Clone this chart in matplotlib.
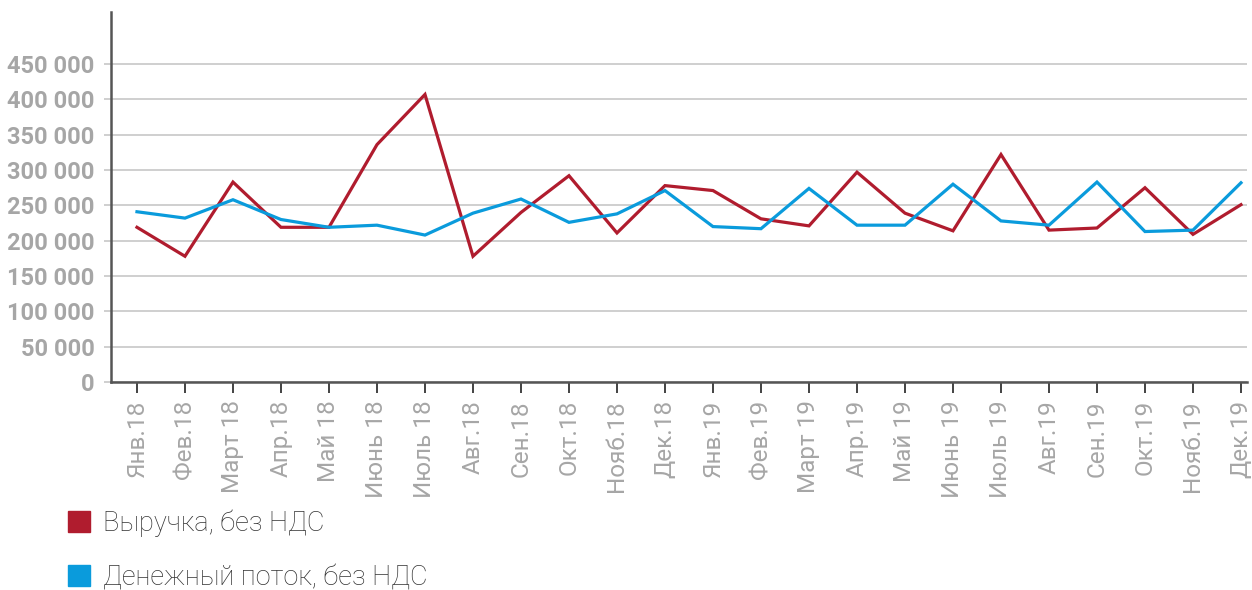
import numpy as np
import matplotlib

matplotlib.use("Agg")
import matplotlib.pyplot as plt
from matplotlib.patches import Patch

# monthly figures, 2018-2019, roubles excl. VAT
months = ["Янв.18", "Фев.18", "Март 18", "Апр.18", "Май 18", "Июнь 18",
          "Июль 18", "Авг.18", "Сен.18", "Окт.18", "Нояб.18", "Дек.18",
          "Янв.19", "Фев.19", "Март 19", "Апр.19", "Май 19", "Июнь 19",
          "Июль 19", "Авг.19", "Сен.19", "Окт.19", "Нояб.19", "Дек.19"]
revenue = [219000, 178000, 283000, 219000, 219000, 336000,
           407000, 178000, 240000, 292000, 211000, 278000,
           271000, 231000, 221000, 297000, 239000, 214000,
           322000, 215000, 218000, 275000, 209000, 251000]
cashflow = [241000, 232000, 258000, 230000, 219000, 222000,
            208000, 239000, 259000, 226000, 238000, 271000,
            220000, 217000, 274000, 222000, 222000, 280000,
            228000, 222000, 283000, 213000, 215000, 282000]
series_names = ["Выручка, без НДС", "Денежный поток, без НДС"]
y_ticks = np.arange(0, 450001, 50000)

RED = "#b01c2e"
BLUE = "#0a9bdc"
GREY = "#a6a6a6"

fig = plt.figure(figsize=(12.52, 5.9), dpi=100)
ax = fig.add_axes([0.0887, 0.3525, 0.9071, 0.6275])

x = np.arange(len(months))
ax.plot(x, revenue, color=RED, lw=2.3, solid_joinstyle="miter")
ax.plot(x, cashflow, color=BLUE, lw=2.3, solid_joinstyle="miter")

ax.set_xlim(-0.54, len(months) - 1 + 0.12)
ax.set_ylim(0, 524000)

ax.set_yticks(y_ticks)
ax.set_yticklabels([f"{v:,}".replace(",", " ") for v in y_ticks],
                   family=["Roboto", "DejaVu Sans"],
                   fontweight="bold", fontsize=17, color=GREY)
ax.yaxis.grid(True, color="#cccccc", lw=1.3)
ax.tick_params(axis="y", length=5, width=1.3, color="#cccccc", pad=7)

ax.set_xticks(x)
ax.set_xticklabels(months, rotation=90, fontsize=17.5, color=GREY,
                   family=["Roboto", "DejaVu Sans"])
ax.tick_params(axis="x", length=8, width=1.2, color="#222222", pad=5)

for side in ("top", "right"):
    ax.spines[side].set_visible(False)
for side in ("left", "bottom"):
    ax.spines[side].set_color("#555555")
    ax.spines[side].set_linewidth(1.8)
ax.set_axisbelow(True)

handles = [Patch(color=RED), Patch(color=BLUE)]
fig.legend(handles, series_names, loc="upper left",
           bbox_to_anchor=(0.0543, 0.1364), frameon=False,
           handlelength=0.8, handleheight=0.8, handletextpad=0.48,
           labelspacing=1.0, borderpad=0, borderaxespad=0,
           prop={"family": ["Roboto", "DejaVu Sans"], "weight": "light",
                 "size": 19.5}, labelcolor="#333333")

fig.savefig("out.png", dpi=100)
